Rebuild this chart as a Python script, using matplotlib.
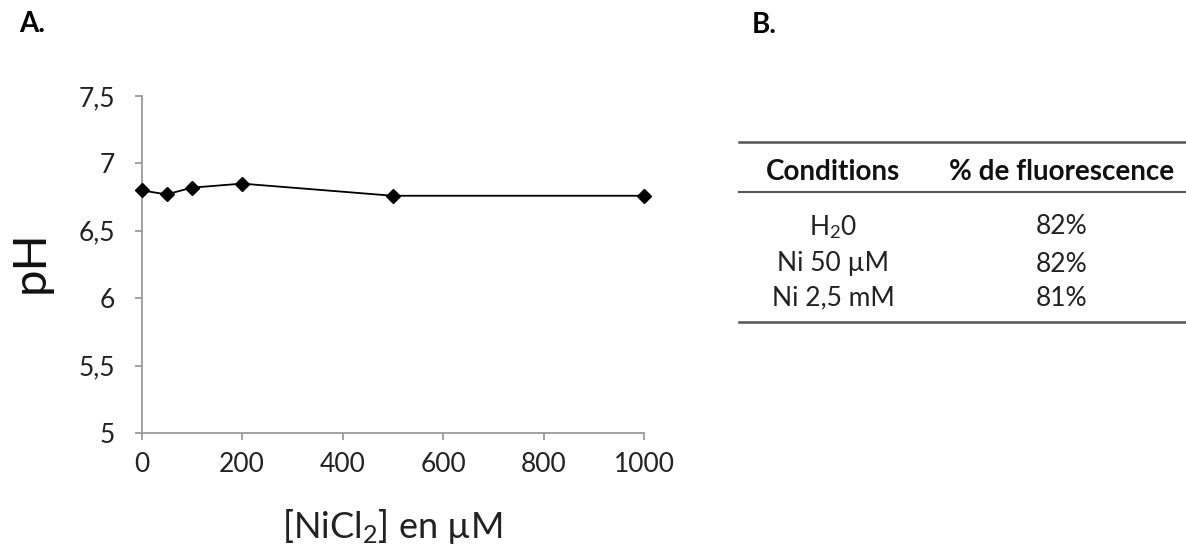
import numpy as np
import matplotlib
matplotlib.use("Agg")
import matplotlib.pyplot as plt
from matplotlib.lines import Line2D

plt.rcParams['font.family'] = ['Lato', 'DejaVu Sans']
plt.rcParams['mathtext.fontset'] = 'custom'
plt.rcParams['mathtext.rm'] = 'Lato'
plt.rcParams['mathtext.it'] = 'Lato:italic'
plt.rcParams['mathtext.bf'] = 'Lato:bold'

# panel A data
nicl2 = [0, 50, 100, 200, 500, 1000]
ph = [6.80, 6.77, 6.82, 6.85, 6.76, 6.76]
y_ticks = [5, 5.5, 6, 6.5, 7, 7.5]
y_labels = ['5', '5,5', '6', '6,5', '7', '7,5']
x_ticks = [0, 200, 400, 600, 800, 1000]

# panel B data
headers = ['Conditions', '% de fluorescence']
conditions = ['H$_2$0', 'Ni 50 µM', 'Ni 2,5 mM']
fluorescence = ['82%', '82%', '81%']

W, H = 1186, 554
fig = plt.figure(figsize=(W / 100, H / 100), dpi=100)

ax = fig.add_axes([141.5 / W, 1 - 433 / H, (644 - 141.5) / W, (433 - 96) / H])
ax.plot(nicl2, ph, color='black', lw=1.3, marker='D', markersize=7, clip_on=False, zorder=3)
ax.set_xlim(0, 1000)
ax.set_ylim(5, 7.5)
ax.set_xticks(x_ticks)
ax.set_yticks(y_ticks)
ax.set_yticklabels(y_labels)
for s in ['top', 'right']:
    ax.spines[s].set_visible(False)
for s in ['left', 'bottom']:
    ax.spines[s].set_color('#9a9a9a')
    ax.spines[s].set_linewidth(1.3)
ax.tick_params(axis='both', colors='#9a9a9a', length=5, width=1.3, direction='out',
               labelsize=19, labelcolor='#222222')
ax.tick_params(axis='y', pad=14)
ax.tick_params(axis='x', pad=9)

fig.text(31 / W, 1 - 262 / H, 'pH', fontsize=34, color='#111111', rotation=90,
         ha='center', va='center')
fig.text(392 / W, 1 - 526 / H, '[NiCl$_2$] en µM', fontsize=26, color='#222222',
         ha='center', va='center')

fig.text(19 / W, 1 - 24 / H, 'A.', fontsize=20, fontweight='bold', ha='left', va='center')
fig.text(752 / W, 1 - 25 / H, 'B.', fontsize=20, fontweight='bold', ha='left', va='center')

# table in panel B
col_x = [833 / W, 1062 / W]
line_x0, line_x1 = 739 / W, 1.0
for yy, lw in [(142, 1.8), (192, 1.5), (322, 1.8)]:
    fig.add_artist(Line2D([line_x0, line_x1], [1 - yy / H] * 2, color='#555555', lw=lw))
for cx, h in zip(col_x, headers):
    fig.text(cx, 1 - 172 / H, h, fontsize=20, fontweight='bold', ha='center', va='center',
             color='#111111')
row_y = [227, 264, 298]
for ry, cond, fl in zip(row_y, conditions, fluorescence):
    fig.text(col_x[0], 1 - ry / H, cond, fontsize=19, ha='center', va='center', color='#222222')
    fig.text(col_x[1], 1 - ry / H, fl, fontsize=19, ha='center', va='center', color='#222222')

fig.savefig('out.png', dpi=100)
